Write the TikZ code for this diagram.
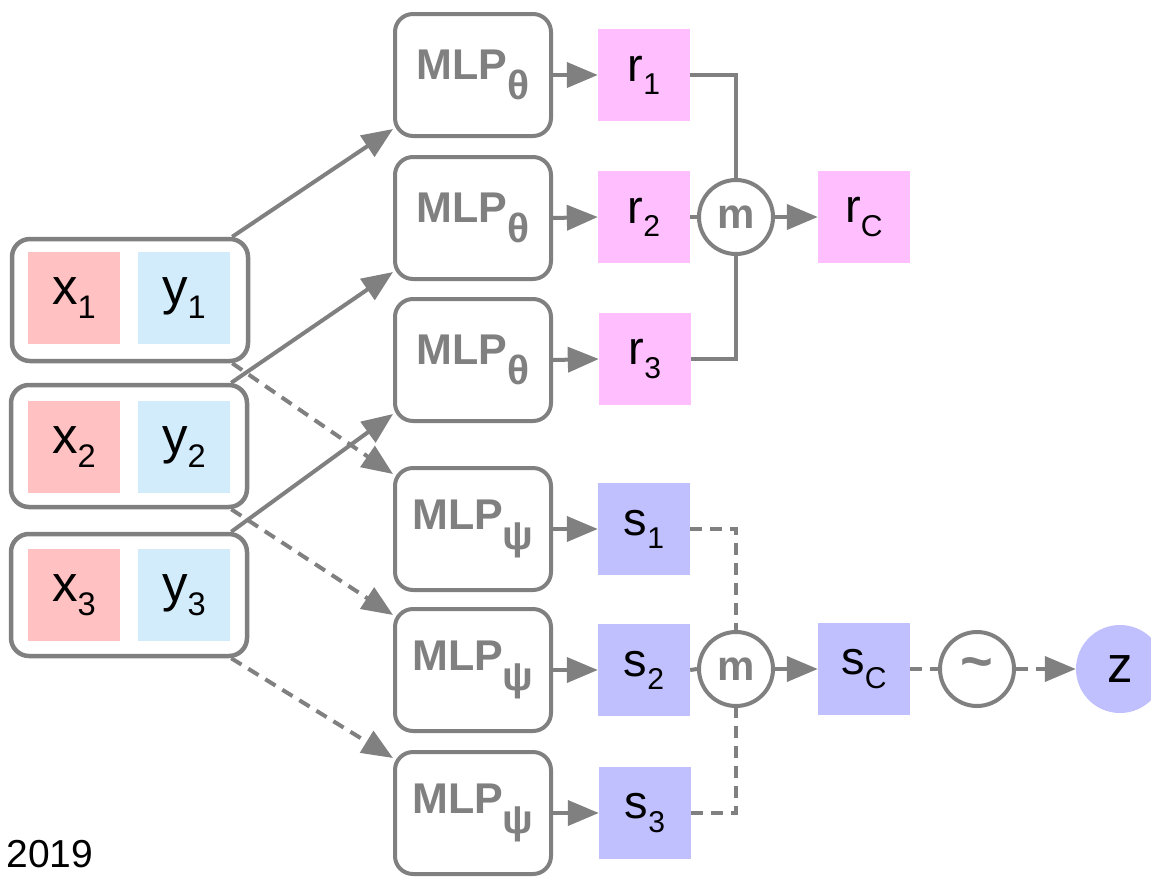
\documentclass[tikz,border=0pt]{standalone}
\usepackage{fontspec}
\usepackage{graphicx}
\setmainfont{Liberation Sans}
\usetikzlibrary{arrows.meta}

\definecolor{linegray}{HTML}{808080}
\definecolor{xpink}{HTML}{FFC1C1}
\definecolor{yblue}{HTML}{D2ECFB}
\definecolor{rpink}{HTML}{FFBFFF}
\definecolor{slilac}{HTML}{C0C0FF}

% lowered indices for the labels
\newcommand\idx[1]{\raisebox{-0.28em}{\scalebox{0.64}{#1}}}
\newcommand\mlpidx[1]{\raisebox{-0.45em}{\scalebox{0.95}{#1}}}

\tikzset{
    pairbox/.style={draw=linegray, line width=4.5pt, rounded corners=18pt,
        minimum width=236pt, minimum height=122pt},
    cell/.style={minimum size=92pt, inner sep=0pt, font=\fontsize{51}{51}\selectfont},
    mlp/.style={draw=linegray, line width=4pt, rounded corners=18pt,
        minimum width=156pt, minimum height=122pt, text=linegray,
        font=\fontsize{43}{43}\selectfont\bfseries},
    code/.style={minimum size=92pt, inner sep=0pt, font=\fontsize{47}{47}\selectfont},
    op/.style={circle, draw=linegray, line width=4pt, minimum size=74pt, inner sep=0pt,
        text=linegray, font=\fontsize{42}{42}\selectfont\bfseries},
    plain/.style={draw=linegray, line width=4pt},
    link/.style={plain, -{Triangle[length=31pt,width=25pt]}},
    dashplain/.style={plain, dash pattern=on 12pt off 8pt},
    dashlink/.style={link, dash pattern=on 12pt off 8pt},
}

\begin{document}
\begin{tikzpicture}[x=1pt, y=-1pt]
    \useasboundingbox (0,0) rectangle (1151,876);

    % context pairs
    \node[pairbox] (pair1) at (130,300) {};
    \node[cell, fill=xpink] (x1) at (74,298) {x\idx{1}};
    \node[cell, fill=yblue] (y1) at (184,298) {y\idx{1}};
    \node[pairbox] (pair2) at (129,446) {};
    \node[cell, fill=xpink] (x2) at (74,447) {x\idx{2}};
    \node[cell, fill=yblue] (y2) at (184,447) {y\idx{2}};
    \node[pairbox] (pair3) at (129,595) {};
    \node[cell, fill=xpink] (x3) at (74,595) {x\idx{3}};
    \node[cell, fill=yblue] (y3) at (184,595) {y\idx{3}};

    % encoders
    \node[mlp] (theta1) at (473,75) {MLP\mlpidx{θ}};
    \node[mlp] (theta2) at (473,218) {MLP\mlpidx{θ}};
    \node[mlp] (theta3) at (473,360) {MLP\mlpidx{θ}};
    \node[mlp] (psi1) at (473,529) {MLP\mlpidx{ψ}};
    \node[mlp] (psi2) at (473,670) {MLP\mlpidx{ψ}};
    \node[mlp] (psi3) at (473,813) {MLP\mlpidx{ψ}};

    % deterministic path
    \node[code, fill=rpink] (r1) at (644,75) {r\idx{1}};
    \node[code, fill=rpink] (r2) at (644,217) {r\idx{2}};
    \node[code, fill=rpink] (r3) at (645,359) {r\idx{3}};
    \node[op] (mr) at (736,217) {m};
    \node[code, fill=rpink] (rC) at (864,217) {r\idx{C}};

    % latent path
    \node[code, fill=slilac] (s1) at (644,529) {s\idx{1}};
    \node[code, fill=slilac] (s2) at (644,670) {s\idx{2}};
    \node[code, fill=slilac] (s3) at (645,813) {s\idx{3}};
    \node[op] (ms) at (736,669) {m};
    \node[code, fill=slilac] (sC) at (864,669) {s\idx{C}};
    \node[op, font=\fontsize{56}{56}\selectfont\bfseries] (tilde) at (977,669) {\textasciitilde};
    \node[circle, fill=slilac, minimum size=88pt, inner sep=0pt,
        font=\fontsize{51}{51}\selectfont] (z) at (1120,669) {z};

    \node[anchor=base west, font=\fontsize{39}{39}\selectfont] (year) at (3,867) {2019};

    % pairs into the encoders
    \draw[link] ([xshift=-18pt]pair1.north east) -- ([yshift=9pt]theta1.south west);
    \draw[link] ([xshift=-18pt]pair2.north east) -- ([yshift=9pt]theta2.south west);
    \draw[link] ([xshift=-18pt]pair3.north east) -- ([yshift=9pt]theta3.south west);
    \draw[dashlink] ([xshift=-18pt]pair1.south east) -- ([yshift=-8pt]psi1.north west);
    \draw[dashlink] ([xshift=-18pt]pair2.south east) -- ([yshift=-8pt]psi2.north west);
    \draw[dashlink] ([xshift=-18pt]pair3.south east) -- ([yshift=-8pt]psi3.north west);

    \draw[link] (theta1.east) -- (r1.west);
    \draw[link] (theta2.east) -- (r2.west);
    \draw[link] (theta3.east) -- (r3.west);
    \draw[link] (psi1.east) -- (s1.west);
    \draw[link] (psi2.east) -- (s2.west);
    \draw[link] (psi3.east) -- (s3.west);

    % mean over the codes
    \draw[plain] (r1.east) -| (mr.north);
    \draw[plain] (r2.east) -- (mr.west);
    \draw[plain] (r3.east) -| (mr.south);
    \draw[link] (mr.east) -- (rC.west);

    \draw[dashplain] (s1.east) -| (ms.north);
    \draw[dashplain] (s2.east) -- (ms.west);
    \draw[dashplain] (s3.east) -| (ms.south);
    \draw[link] (ms.east) -- (sC.west);
    \draw[dashplain] (sC.east) -- (tilde.west);
    \draw[dashlink] (tilde.east) -- (z.west);
\end{tikzpicture}
\end{document}
